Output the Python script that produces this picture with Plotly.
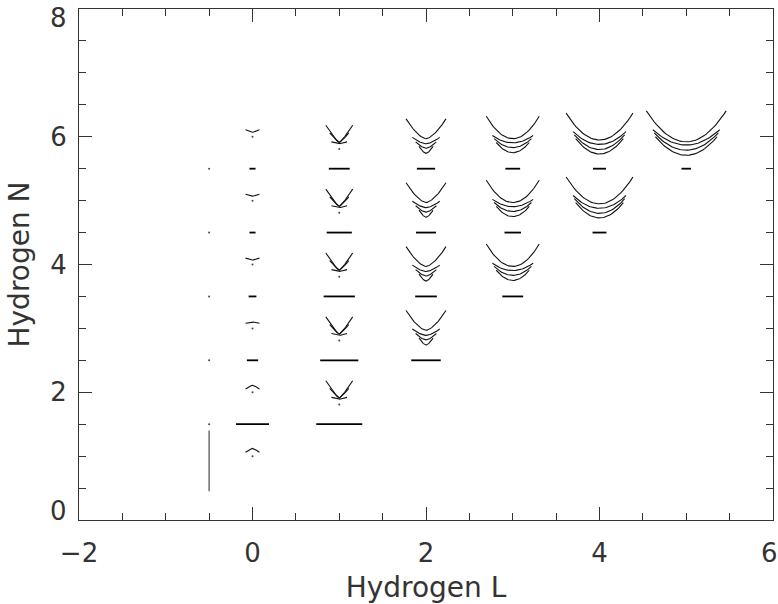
import numpy as np
import plotly.graph_objects as go

N_TOP = 6  # highest principal level drawn

# Horizontal level bars (centre column L, height y, half-width in L units)
BAR_L = [0, 0, 0, 0, 0, 1, 1, 1, 1, 1, 2, 2, 2, 2, 3, 3, 3, 4, 4, 5]
BAR_Y = [1.5, 2.5, 3.5, 4.5, 5.5, 1.5, 2.5, 3.5, 4.5, 5.5,
         2.5, 3.5, 4.5, 5.5, 3.5, 4.5, 5.5, 4.5, 5.5, 5.5]
BAR_HALF = [0.19, 0.065, 0.045, 0.035, 0.035,
            0.265, 0.22, 0.18, 0.145, 0.12,
            0.17, 0.125, 0.115, 0.105,
            0.12, 0.095, 0.085,
            0.08, 0.075,
            0.055]

# Sub-level arcs for L >= 1, one row per column: half-width, vertex and rim
# heights measured from the level N.  Each column repeats for N = L+1 .. 6.
ARC_L = [1, 2, 3, 4, 5]
ARC_HALF = [[0.155, 0.11, 0.09],
            [0.23, 0.158, 0.119, 0.081],
            [0.305, 0.235, 0.215, 0.19],
            [0.385, 0.305, 0.29, 0.275],
            [0.46, 0.385, 0.37, 0.355]]
ARC_VERTEX = [[-0.09, -0.09, -0.11],
              [-0.03, -0.11, -0.18, -0.26],
              [-0.03, -0.095, -0.17, -0.25],
              [-0.05, -0.12, -0.20, -0.27],
              [-0.08, -0.13, -0.21, -0.29]]
ARC_RIM = [[0.18, 0.06, -0.08],
           [0.28, -0.01, -0.08, -0.15],
           [0.32, 0.02, -0.03, -0.09],
           [0.37, 0.08, 0.03, -0.03],
           [0.405, 0.11, 0.06, 0.0]]
# Profile exponent per column: 1 gives straight V sides, 2 a parabola
ARC_POWER = [1.2, 1.6, 2.0, 2.0, 2.0]

# S-states (L = 0): small caret per level N, centre and end heights above N
CARET_N = [1, 2, 3, 4, 5, 6]
CARET_MID = [0.12, 0.11, 0.10, 0.07, 0.07, 0.07]
CARET_END = [0.06, 0.05, 0.08, 0.10, 0.10, 0.11]
CARET_HALF = 0.08

# Isolated points
DOT_L = [-0.5] * 5 + [0] * 6 + [1] * 5
DOT_Y = [1.5, 2.5, 3.5, 4.5, 5.5,
         1.0, 2.0, 3.0, 4.0, 5.0, 6.0,
         1.81, 2.81, 3.81, 4.81, 5.81]

# Vertical segment in the L = -1/2 column
STEM_L = [-0.5, -0.5]
STEM_Y = [0.45, 1.40]

# Axis labelling; the end labels are set inside the frame separately
X_TICKS = [-2, 0, 2, 4, 6]
X_TICK_TEXT = ["\u22122", "0", "2", "4", ""]
Y_TICKS = [0, 2, 4, 6, 8]
Y_TICK_TEXT = ["", "2", "4", "6", ""]
X_MAX_LABEL = "6"
Y_MIN_LABEL = "0"
Y_MAX_LABEL = "8"


def arc(xc, yc, half, vertex, rim, power=2.0, npts=41):
    u = np.linspace(-1.0, 1.0, npts)
    return (list(xc + half * u),
            list(yc + vertex + (rim - vertex) * np.abs(u) ** power))


ax, ay = [], []
for L, halves, verts, rims, p in zip(ARC_L, ARC_HALF, ARC_VERTEX, ARC_RIM,
                                     ARC_POWER):
    for n in range(L + 1, N_TOP + 1):
        for h, v, r in zip(halves, verts, rims):
            xs, ys = arc(L, n, h, v, r, p)
            ax += xs + [None]
            ay += ys + [None]
for n, m, e in zip(CARET_N, CARET_MID, CARET_END):
    xs, ys = arc(0, n, CARET_HALF, m, e, 1.3, npts=15)
    ax += xs + [None]
    ay += ys + [None]

bx, by = [], []
for L, y, h in zip(BAR_L, BAR_Y, BAR_HALF):
    bx += [L - h, L + h, None]
    by += [y, y, None]

fig = go.Figure()
fig.add_trace(go.Scatter(x=ax, y=ay, mode="lines",
                         line=dict(color="#111111", width=1.1),
                         hoverinfo="skip"))
fig.add_trace(go.Scatter(x=bx, y=by, mode="lines",
                         line=dict(color="#000000", width=1.8),
                         hoverinfo="skip"))
fig.add_trace(go.Scatter(x=STEM_L, y=STEM_Y, mode="lines",
                         line=dict(color="#777777", width=1.6),
                         hoverinfo="skip"))
fig.add_trace(go.Scatter(x=DOT_L, y=DOT_Y, mode="markers",
                         marker=dict(color="#444444", size=2),
                         hoverinfo="skip"))

tick_font = dict(family="DejaVu Sans", size=26, color="#333333")
title_font = dict(family="DejaVu Sans", size=28, color="#333333")
minor_ticks = dict(ticks="inside", ticklen=7, tickwidth=1,
                   tickcolor="#333333", dtick=0.5, tick0=0)
common = dict(showgrid=False, zeroline=False, showline=True,
              linecolor="#333333", linewidth=1, mirror="allticks",
              ticks="inside", ticklen=13, tickwidth=1, tickcolor="#333333",
              tickfont=tick_font, ticklabeloverflow="allow",
              minor=minor_ticks, automargin=False)

# End-of-axis labels kept inside the page
end_labels = [
    dict(x=X_TICKS[-1], y=0, xref="x", yref="paper", text=X_MAX_LABEL,
         xanchor="right", yanchor="middle", xshift=7, yshift=-33,
         showarrow=False, font=tick_font),
    dict(x=0, y=Y_TICKS[0], xref="paper", yref="y", text=Y_MIN_LABEL,
         xanchor="right", yanchor="bottom", xshift=-10, yshift=-8,
         showarrow=False, font=tick_font),
    dict(x=0, y=Y_TICKS[-1], xref="paper", yref="y", text=Y_MAX_LABEL,
         xanchor="right", yanchor="top", xshift=-10, yshift=8,
         showarrow=False, font=tick_font),
]

fig.update_layout(
    width=778, height=604,
    margin=dict(l=79, r=5, t=9, b=84),
    paper_bgcolor="white", plot_bgcolor="white",
    showlegend=False,
    annotations=end_labels,
    xaxis=dict(range=[-2, 6], tickvals=X_TICKS, ticktext=X_TICK_TEXT,
               ticklabelstandoff=10,
               title=dict(text="Hydrogen L", standoff=12, font=title_font),
               **common),
    yaxis=dict(range=[0, 8], tickvals=Y_TICKS, ticktext=Y_TICK_TEXT,
               ticklabelstandoff=6,
               title=dict(text="Hydrogen N", standoff=12, font=title_font),
               **common),
)

fig.write_html("out.html")
